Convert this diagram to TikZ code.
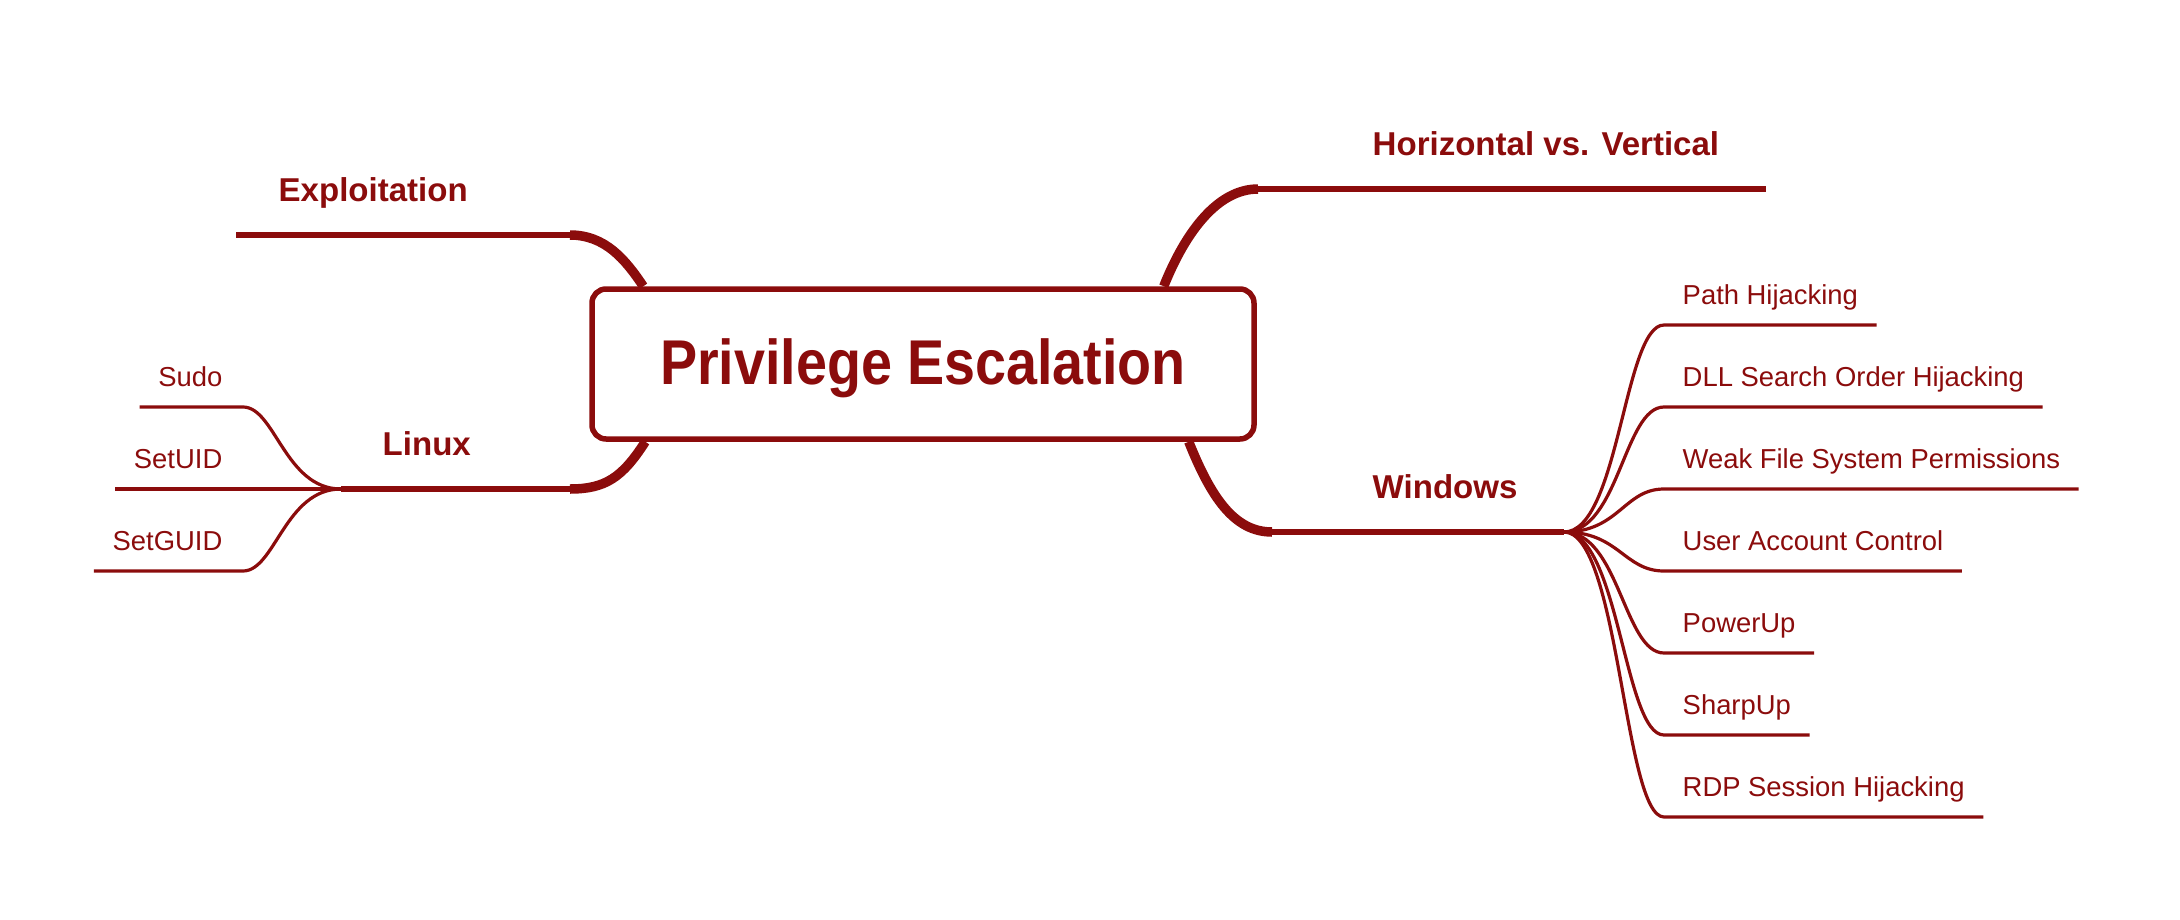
\documentclass[tikz,border=0pt]{standalone}
\usepackage{fontspec}
\setmainfont{Liberation Sans}
\newfontfamily\titlefont{Liberation Sans}[FakeStretch=0.88]
\usepackage{tikz}
\usetikzlibrary{calc}
\definecolor{darkred}{RGB}{139,12,12}

\tikzset{
	root/.style={draw=darkred, line width=0.55mm, rounded corners=1.4mm, fill=white, minimum width=66.2mm, minimum height=15mm, text depth=1.6pt, text=darkred, font=\titlefont\bfseries\fontsize{18}{22}\selectfont},
	topic/.style={anchor=base west, inner sep=0pt, text=darkred, font=\bfseries\fontsize{9.4}{11}\selectfont},
	leaf/.style={anchor=base west, inner xsep=1.8mm, inner ysep=0pt, text=darkred, font=\fontsize{7.8}{9}\selectfont},
	mainbend/.style={draw=darkred, line width=0.95mm},
	branch/.style={draw=darkred, line width=0.6mm},
	twig/.style={draw=darkred, line width=0.32mm}
}

\begin{document}
\begin{tikzpicture}[x=0.1mm, y=-0.1mm]
	\useasboundingbox (0,0) rectangle (2180,920);
	\node[root] (PE) at (923,364) {Privilege Escalation};

	\coordinate (Ej) at (570,235);
	\coordinate (Lj) at (570,489);
	\coordinate (Lhub) at (341,489);
	\coordinate (Hj) at (1258,189);
	\coordinate (Wj) at (1272,532);
	\coordinate (Whub) at (1564,532);

	\node[topic] (Expl) at (278,201) {Exploitation};
	\node[topic] (Lin) at (382,455) {Linux};
	\node[topic] (HV) at (1372,155) {Horizontal vs. Vertical};
	\node[topic] (Win) at (1372,498) {Windows};

	\draw[mainbend] ($(PE.north west)+(54,0)$) .. controls +(-18,-27) and +(35,0) .. (Ej);
	\draw[mainbend] ($(PE.south west)+(56,0)$) .. controls +(-23,36) and +(35,0) .. (Lj);
	\draw[mainbend] ($(PE.north east)+(-93,0)$) .. controls +(22,-55) and +(-40,0) .. (Hj);
	\draw[mainbend] ($(PE.south east)+(-68,0)$) .. controls +(22,55) and +(-38,0) .. (Wj);

	\path[branch]
		(Ej) edge ($(Expl.base west)+(-42,34)$)
		(Lj) edge (Lhub)
		(Hj) edge ($(HV.base east)+(46,34)$)
		(Wj) edge (Whub);

	\foreach \txt [count=\i] in {Sudo, SetUID, SetGUID} {
		\coordinate (lk\i) at (243,{407+82*(\i-1)});
		\node[leaf, anchor=base east] (l\i) at (241,{386+82*(\i-1)}) {\txt};
		\draw[twig] ($(l\i.base west)+(0,21)$) -- (lk\i) .. controls +(32,0) and +(-56,0) .. (Lhub);
	}

	\foreach \txt [count=\i] in {Path Hijacking, DLL Search Order Hijacking, Weak File System Permissions, User Account Control, PowerUp, SharpUp, RDP Session Hijacking} {
		\node[leaf] (w\i) at (1664,{304+82*(\i-1)}) {\txt};
		\draw[twig] (Whub) .. controls +(55,0) and +(-40,0) .. ($(w\i.base west)+(0,21)$) -- ($(w\i.base east)+(0,21)$);
	}
\end{tikzpicture}
\end{document}
